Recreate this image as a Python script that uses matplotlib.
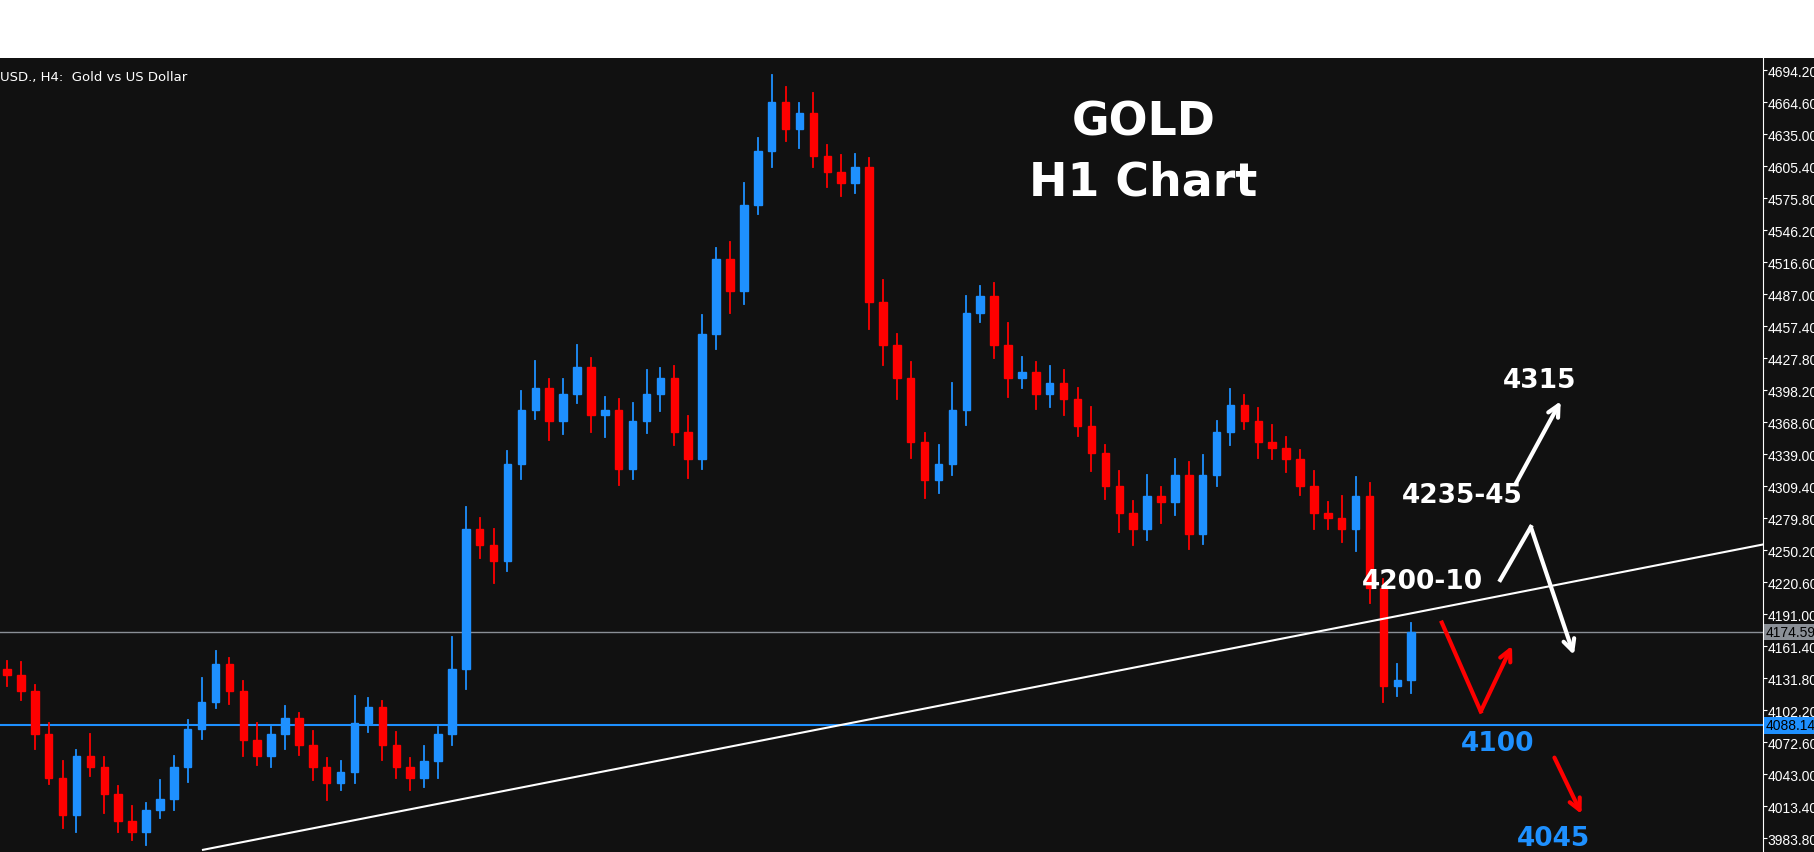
import matplotlib
matplotlib.use("Agg")
import matplotlib.pyplot as plt
from matplotlib.patches import Rectangle

closes = [4135,4120,4080,4040,4005,4060,4050,4025,4000,3990,4010,4020,4050,4085,4110,4145,4120,4075,
          4060,4080,4095,4070,4050,4035,4045,4090,4105,4070,4050,4040,4055,4080,4140,4270,4255,4240,
          4330,4380,4400,4370,4395,4420,4375,4380,4325,4370,4395,4410,4360,4335,4450,4520,4490,4570,
          4620,4665,4640,4655,4615,4600,4590,4605,4480,4440,4410,4350,4315,4330,4380,4470,4485,4440,
          4410,4415,4395,4405,4390,4365,4340,4310,4285,4270,4300,4295,4320,4265,4320,4360,4385,4370,
          4350,4345,4335,4310,4285,4280,4270,4300,4215,4125,4130,4175]
first_open = 4140
up_wick = [8,12,6,10,15,5,20,9,7,14,6,18,10,8,22,12,6,9,15,7,11,5,13,8,10,25,9,6,12,8,14,7,30,20,
           10,15,12,18,25,9,14,20,8,12,10,16,22,9,11,14,18,10,15,20,12,25,14,9,18,10,16,12,8,20,
           10,14,9,18,25,15,10,12,20,14,9,16,12,10,18,8,14,11,20,9,15,12,18,10,14,9,12,16,10,8,
           14,10,20,18,12,9,15,8]
dn_wick = [10,8,14,6,12,15,9,18,10,8,12,7,10,14,9,6,12,15,8,10,14,9,12,16,7,10,8,14,10,12,9,15,
           10,18,12,20,9,14,8,18,12,9,15,20,14,9,11,16,12,18,10,14,20,12,9,15,11,18,10,14,12,9,
           25,18,20,14,16,12,10,14,9,12,18,10,14,12,15,9,16,12,18,15,10,20,12,14,9,10,12,8,
           14,10,12,9,15,10,12,20,14,15,10,12]
price_ticks = [4694.20,4664.60,4635.00,4605.40,4575.80,4546.20,4516.60,4487.00,4457.40,4427.80,
               4398.20,4368.60,4339.00,4309.40,4279.80,4250.20,4220.60,4191.00,4161.40,4131.80,
               4102.20,4072.60,4043.00,4013.40,3983.80]
current_price = 4174.59
support_price = 4088.14
trend_pts = ([14.1, 130.2], [3973.1, 4265.4])

BG = "#111111"; BULL = "#1e90ff"; BEAR = "#ff0000"
YLO, YHI = 3971.1, 4705.6
fig = plt.figure(figsize=(18.15, 8.53), dpi=100)
fig.patch.set_facecolor("white")
fig.patches.append(Rectangle((0, 0), 1, 1-59/853, transform=fig.transFigure, fc=BG, ec="none", zorder=-10))
ax = fig.add_axes([0, 0, 1763/1815, 1-59/853])
ax.set_facecolor(BG)
ax.set_xlim(-0.5, 126.3)
ax.set_ylim(YLO, YHI)

o = first_open
for i, c in enumerate(closes):
    col = BULL if c >= o else BEAR
    hi = max(o, c) + up_wick[i]; lo = min(o, c) - dn_wick[i]
    ax.plot([i, i], [lo, hi], color=col, lw=1.3, zorder=3)
    ax.add_patch(Rectangle((i-0.27, min(o, c)), 0.54, max(abs(c-o), 1), color=col, zorder=3))
    o = c

ax.axhline(current_price, color="#8a8f96", lw=1, zorder=2)
ax.axhline(support_price, color=BULL, lw=1.5, zorder=2)
ax.plot(trend_pts[0], trend_pts[1], color="white", lw=1.5, zorder=4)

ax.yaxis.tick_right()
ax.set_yticks(price_ticks)
ax.set_yticklabels([f"{p:.2f}" for p in price_ticks], family="Liberation Sans")
ax.tick_params(axis="y", colors="white", labelsize=10, length=3, direction="out", pad=0.5)
ax.set_xticks([])
for s in ["top", "bottom", "left"]:
    ax.spines[s].set_visible(False)
ax.spines["right"].set_color("white")
for p, fc in [(current_price, "#8a8f96"), (support_price, BULL)]:
    ax.text(1.0015, (p-YLO)/(YHI-YLO), f"{p:.2f}", transform=ax.transAxes, family="Liberation Sans",
            va="center", ha="left", fontsize=10, color="black",
            bbox=dict(boxstyle="square,pad=0.1", fc=fc, ec="none"), zorder=6)

ax.text(0.0, 0.985, "USD., H4:  Gold vs US Dollar", transform=ax.transAxes, color="white",
        fontsize=9.5, va="top", ha="left")
ax.text(81.75, 4646, "GOLD", color="white", fontsize=33, fontweight="bold", ha="center", va="center")
ax.text(81.75, 4591, "H1 Chart", color="white", fontsize=33, fontweight="bold", ha="center", va="center")
ax.text(110.2, 4408, "4315", color="white", fontsize=19, fontweight="bold", ha="center", va="center")
ax.text(104.7, 4301, "4235-45", color="white", fontsize=19, fontweight="bold", ha="center", va="center")
ax.text(101.8, 4221.6, "4200-10", color="white", fontsize=19, fontweight="bold", ha="center", va="center")
ax.text(107.2, 4072, "4100", color=BULL, fontsize=19, fontweight="bold", ha="center", va="center")
ax.text(111.2, 3984, "4045", color=BULL, fontsize=19, fontweight="bold", ha="center", va="center")

ap = lambda col: dict(arrowstyle="->,head_length=0.8,head_width=0.4", color=col, lw=3, shrinkA=0, shrinkB=0)
ax.plot([107.4, 109.6], [4222.7, 4271.8], color="white", lw=3, zorder=5)
ax.annotate("", xy=(112.7, 4153.4), xytext=(109.6, 4271.8), arrowprops=ap("white"))
ax.annotate("", xy=(111.75, 4388.1), xytext=(108.5, 4311.3), arrowprops=ap("white"))
ax.plot([103.2, 106.0], [4183.3, 4101.1], color=BEAR, lw=3, zorder=5)
ax.annotate("", xy=(108.25, 4161.9), xytext=(106.0, 4101.1), arrowprops=ap(BEAR))
ax.annotate("", xy=(113.25, 4006.2), xytext=(111.3, 4058.4), arrowprops=ap(BEAR))

fig.savefig("out.png", dpi=100, facecolor="white")
